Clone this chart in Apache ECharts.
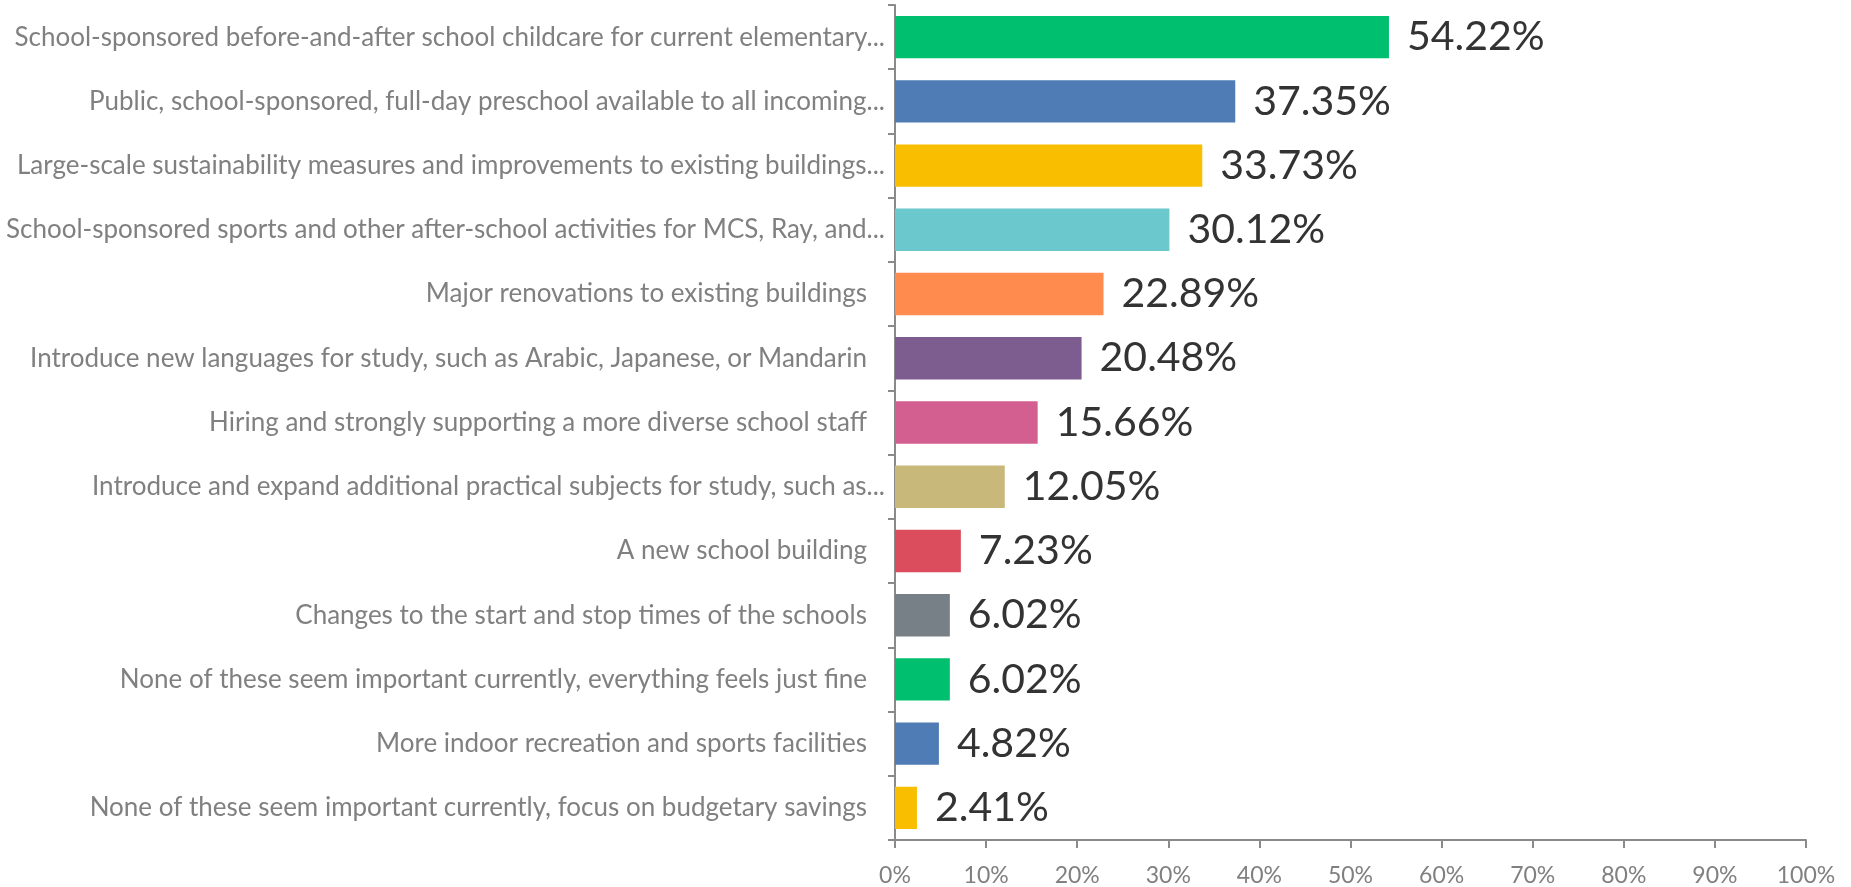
<!DOCTYPE html>
<html>
<head>
<meta charset="utf-8">
<script src="https://cdn.jsdelivr.net/npm/echarts@6/dist/echarts.min.js"></script>
<style>
  html, body { margin: 0; padding: 0; background: #fff; }
  #chart { width: 1851px; height: 887px; }
</style>
</head>
<body>
<div id="chart"></div>
<script>
const categories = [
  'School-sponsored before-and-after school childcare for current elementary...',
  'Public, school-sponsored, full-day preschool available to all incoming...',
  'Large-scale sustainability measures and improvements to existing buildings...',
  'School-sponsored sports and other after-school activities for MCS, Ray, and...',
  'Major renovations to existing buildings',
  'Introduce new languages for study, such as Arabic, Japanese, or Mandarin',
  'Hiring and strongly supporting a more diverse school staff',
  'Introduce and expand additional practical subjects for study, such as...',
  'A new school building',
  'Changes to the start and stop times of the schools',
  'None of these seem important currently, everything feels just fine',
  'More indoor recreation and sports facilities',
  'None of these seem important currently, focus on budgetary savings'
];
const values = [54.22, 37.35, 33.73, 30.12, 22.89, 20.48, 15.66, 12.05, 7.23, 6.02, 6.02, 4.82, 2.41];
const barColors = [
  '#00BF6F', '#507CB6', '#F9BE00', '#6BC8CD', '#FF8B4F', '#7D5C8F', '#D35F90',
  '#C8B97A', '#DB4D5C', '#778087', '#00BF6F', '#507CB6', '#F9BE00'
];
const xTicks = [0, 10, 20, 30, 40, 50, 60, 70, 80, 90, 100];

const chart = echarts.init(document.getElementById('chart'));

// full labels (not cut off) sit a bit further from the axis in the original
const labelFmt = name => name.endsWith('...') ? '{cut|' + name + '}' : '{full|' + name + '}';

const option = {
  animation: false,
  grid: { left: 895, right: 45, top: 5, bottom: 47, containLabel: false },
  xAxis: {
    type: 'value',
    min: xTicks[0],
    max: xTicks[xTicks.length - 1],
    interval: 10,
    axisLine: { show: true, lineStyle: { color: '#8a8a8a', width: 2 } },
    axisTick: { show: true, length: 8, lineStyle: { color: '#8a8a8a', width: 2 } },
    splitLine: { show: false },
    axisLabel: {
      formatter: '{value}%',
      color: '#808080',
      fontFamily: 'Lato',
      fontSize: 23,
      margin: 24
    }
  },
  yAxis: {
    type: 'category',
    inverse: true,
    data: categories,
    axisLine: { show: true, lineStyle: { color: '#8a8a8a', width: 2 } },
    axisTick: { show: true, length: 7, lineStyle: { color: '#8a8a8a', width: 2 } },
    axisLabel: {
      color: '#808080',
      fontFamily: 'Lato',
      fontSize: 26,
      margin: 10,
      formatter: labelFmt,
      rich: {
        cut: { color: '#808080', fontFamily: 'Lato', fontSize: 26 },
        full: { color: '#808080', fontFamily: 'Lato', fontSize: 26, padding: [0, 18, 0, 0] }
      }
    }
  },
  series: [{
    type: 'bar',
    data: values.map((v, i) => ({ value: v, itemStyle: { color: barColors[i] } })),
    barCategoryGap: '34%',
    label: {
      show: true,
      position: 'right',
      distance: 18,
      formatter: p => p.value.toFixed(2) + '%',
      color: '#333333',
      fontFamily: 'Lato',
      fontSize: 41
    }
  }]
};

chart.setOption(option);
</script>
</body>
</html>
